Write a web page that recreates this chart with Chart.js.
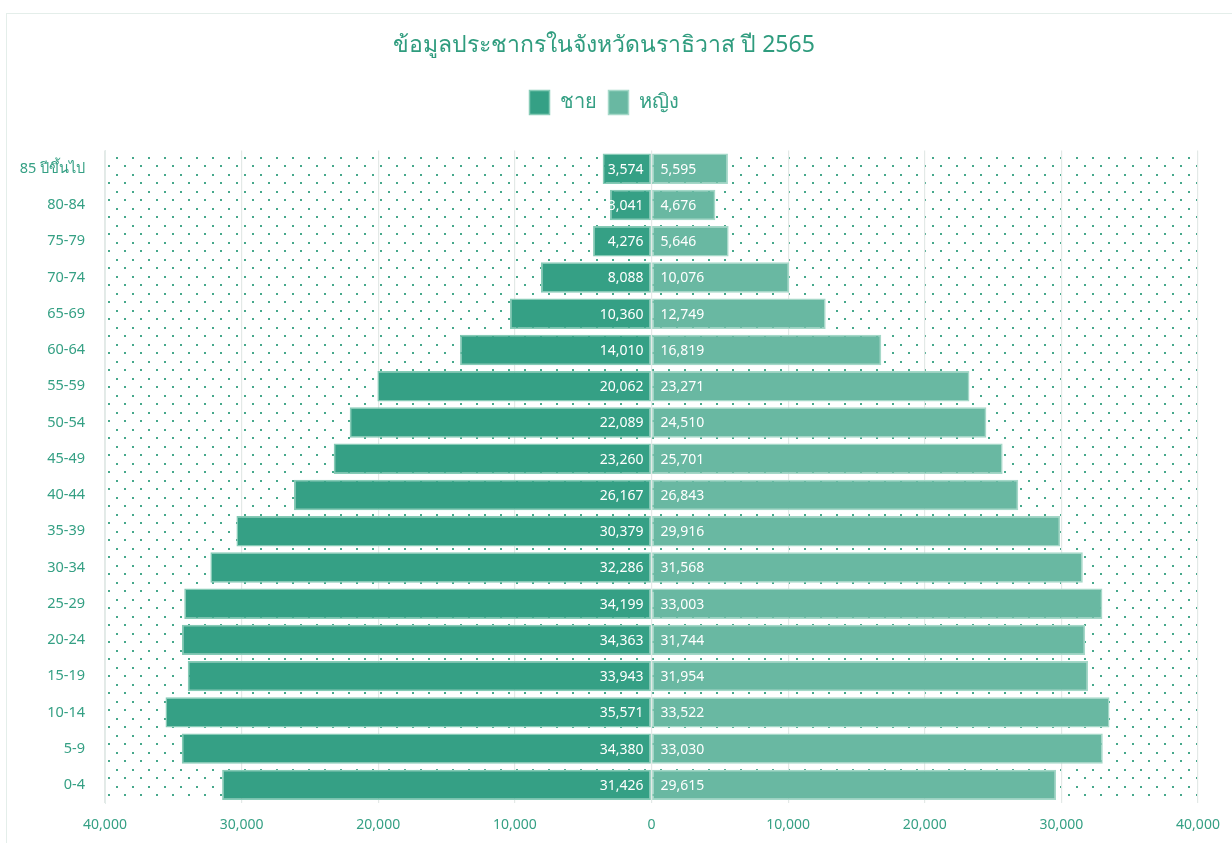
<!DOCTYPE html>
<html>
<head>
<meta charset="utf-8">
<script src="https://cdn.jsdelivr.net/npm/chart.js@4"></script>
<style>
  html, body { margin: 0; padding: 0; background: #fff; }
  #wrap { position: absolute; left: 0; top: 0; width: 1232px; height: 843px; }
  #frame { position: absolute; left: 6px; top: 13px; right: 0; bottom: 0; border-left: 1px solid #e4eeea; border-top: 1px solid #e4eeea; }
</style>
</head>
<body>
<div id="wrap">
  <div id="frame"></div>
  <canvas id="pyramid" width="1232" height="843"></canvas>
</div>
<script>
// ข้อมูลจากภาพ
const ageGroups = ['85 ปีขึ้นไป', '80-84', '75-79', '70-74', '65-69', '60-64', '55-59', '50-54', '45-49',
  '40-44', '35-39', '30-34', '25-29', '20-24', '15-19', '10-14', '5-9', '0-4'];
const male = [3574, 3041, 4276, 8088, 10360, 14010, 20062, 22089, 23260,
  26167, 30379, 32286, 34199, 34363, 33943, 35571, 34380, 31426];
const female = [5595, 4676, 5646, 10076, 12749, 16819, 23271, 24510, 25701,
  26843, 29916, 31568, 33003, 31744, 31954, 33522, 33030, 29615];
const xTicks = [-40000, -30000, -20000, -10000, 0, 10000, 20000, 30000, 40000];

const FONT = '"Liberation Sans Narrow", "Noto Sans", sans-serif';
const GREEN_TEXT = '#35a084';

// dotted background of plot area
function dotPattern(ctx) {
  const c = document.createElement('canvas');
  c.width = 16; c.height = 17;
  const g = c.getContext('2d');
  g.fillStyle = '#46a88b';
  g.fillRect(4, 4, 2, 2);
  g.fillRect(12, 12, 2, 2);
  return ctx.createPattern(c, 'repeat');
}

const bgDots = {
  id: 'bgDots',
  beforeDraw(chart) {
    const { ctx, chartArea: a } = chart;
    ctx.save();
    ctx.fillStyle = dotPattern(ctx);
    ctx.fillRect(a.left, a.top, a.right - a.left, a.bottom - a.top);
    ctx.restore();
  }
};

// ตัวเลขบนแท่ง
const barLabels = {
  id: 'barLabels',
  afterDatasetsDraw(chart) {
    const ctx = chart.ctx;
    const zero = chart.scales.x.getPixelForValue(0);
    ctx.save();
    ctx.font = '14px ' + FONT;
    ctx.fillStyle = '#ffffff';
    ctx.textBaseline = 'middle';
    chart.data.datasets.forEach((ds, i) => {
      chart.getDatasetMeta(i).data.forEach((bar, j) => {
        const v = Math.abs(ds.data[j]).toLocaleString('en-US');
        if (i === 0) {
          ctx.textAlign = 'right';
          ctx.fillText(v, zero - 8, bar.y + 1);
        } else {
          ctx.textAlign = 'left';
          ctx.fillText(v, zero + 9, bar.y + 1);
        }
      });
    });
    ctx.restore();
  }
};

const legendSpace = {
  id: 'legendSpace',
  beforeInit(chart) {
    const fit = chart.legend.fit;
    chart.legend.fit = function () {
      fit.call(this);
      this.height += 26;
    };
  }
};

const ctx = document.getElementById('pyramid').getContext('2d');
new Chart(ctx, {
  type: 'bar',
  data: {
    labels: ageGroups,
    datasets: [
      {
        label: 'ชาย',
        data: male.map(v => -v),
        backgroundColor: '#35a085',
        borderColor: '#86cbb6',
        borderWidth: 1.5,
        borderSkipped: false,
        categoryPercentage: 1,
        barPercentage: 0.84
      },
      {
        label: 'หญิง',
        data: female,
        backgroundColor: '#69b8a2',
        borderColor: '#a5d8c8',
        borderWidth: 1.5,
        borderSkipped: false,
        categoryPercentage: 1,
        barPercentage: 0.84
      }
    ]
  },
  options: {
    indexAxis: 'y',
    responsive: false,
    animation: false,
    layout: { padding: { left: 10, right: 34, top: 0, bottom: 0 } },
    scales: {
      x: {
        stacked: true,
        min: -40000,
        max: 40000,
        afterBuildTicks(scale) { scale.ticks = xTicks.map(v => ({ value: v })); },
        afterFit(scale) {
          scale.height = 40;
          scale.paddingLeft = 0;
          scale.paddingRight = 0;
        },
        ticks: {
          color: GREEN_TEXT,
          font: { family: FONT, size: 14 },
          padding: 14,
          maxRotation: 0,
          callback: v => Math.abs(v).toLocaleString('en-US')
        },
        grid: { color: '#e3e9e7', lineWidth: 1.2, drawTicks: false },
        border: { display: false }
      },
      y: {
        stacked: true,
        afterFit(scale) { scale.width = 95; },
        ticks: {
          color: GREEN_TEXT,
          font: { family: FONT, size: 14.5 },
          padding: 12
        },
        grid: { display: false },
        border: { color: '#e3ece9' }
      }
    },
    plugins: {
      title: {
        display: true,
        text: 'ข้อมูลประชากรในจังหวัดนราธิวาส ปี 2565',
        color: '#2f9c7e',
        font: { family: FONT, size: 23, weight: 'normal' },
        padding: { top: 32, bottom: 19 }
      },
      legend: {
        position: 'top',
        labels: {
          color: GREEN_TEXT,
          font: { family: FONT, size: 20 },
          boxWidth: 20,
          boxHeight: 24,
          padding: 12
        }
      },
      tooltip: { enabled: false }
    }
  },
  plugins: [bgDots, barLabels, legendSpace]
});
</script>
</body>
</html>
